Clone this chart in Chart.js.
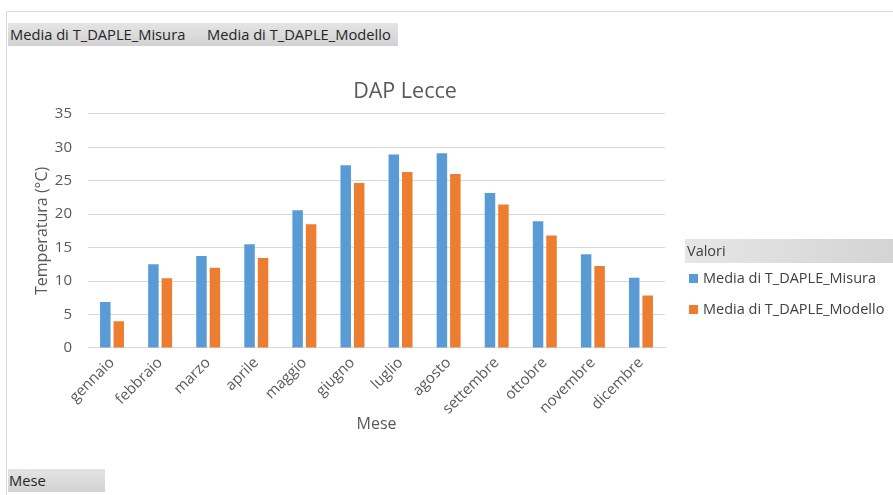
<!DOCTYPE html>
<html>
<head>
<meta charset="utf-8">
<script src="https://cdn.jsdelivr.net/npm/chart.js@4"></script>
<style>
  body { margin: 0; width: 893px; height: 495px; background: #fff; position: relative; overflow: hidden;
         font-family: "Open Sans", "Noto Sans", sans-serif; color: #262626; }
  #frameTop { position: absolute; left: 6px; top: 11px; width: 887px; height: 1px; background: #dadada; }
  #frameLeft { position: absolute; left: 6px; top: 11px; width: 1px; height: 484px; background: #dadada; }
  .btn { position: absolute; height: 23px; line-height: 23px; font-size: 14.7px;
         background: linear-gradient(#e4e4e4, #d2d2d2); color: #262626; white-space: nowrap; }
  #wrap { position: absolute; left: 0; top: 0; width: 810px; height: 495px; }
  #legend { position: absolute; left: 685px; top: 239px; width: 208px; font-size: 14.5px; }
  #legend .head { height: 24px; line-height: 24px; padding-left: 2px; background: linear-gradient(90deg, #e6e6e6, #d4d4d4); color: #404040; }
  #legend .item { height: 31px; line-height: 29px; padding-left: 4px; color: #404040; }
  #legend .sw { display: inline-block; width: 9px; height: 9px; margin-right: 5px; vertical-align: 0; }
</style>
</head>
<body>
<div id="frameTop"></div>
<div id="frameLeft"></div>
<div class="btn" style="left:8px; top:23px; width:390px;">
  <span style="position:absolute; left:2px;">Media di T_DAPLE_Misura</span>
  <span style="position:absolute; left:199px;">Media di T_DAPLE_Modello</span>
</div>
<div class="btn" style="left:8px; top:469px; width:97px; padding-left:1px; box-sizing:border-box;">Mese</div>
<div id="wrap"><canvas id="daplChart"></canvas></div>
<div id="legend"><div class="head">Valori</div></div>

<script>
// Dati
const mesi = ['gennaio', 'febbraio', 'marzo', 'aprile', 'maggio', 'giugno',
              'luglio', 'agosto', 'settembre', 'ottobre', 'novembre', 'dicembre'];
const misura = [6.85, 12.5, 13.75, 15.5, 20.6, 27.3, 28.9, 29.1, 23.15, 18.95, 14.0, 10.5];
const modello = [4.0, 10.4, 12.0, 13.45, 18.5, 24.65, 26.3, 26.0, 21.45, 16.8, 12.25, 7.85];
const yTicks = [0, 5, 10, 15, 20, 25, 30, 35];

const serie = [
    { label: 'Media di T_DAPLE_Misura', data: misura, color: '#5B9BD5' },
    { label: 'Media di T_DAPLE_Modello', data: modello, color: '#ED7D31' },
];

const grey = '#595959';
const font = '"Open Sans", "Noto Sans", sans-serif';

// il titolo di Excel è centrato sull'intera area del grafico, non sul plot
const centerTitle = {
    id: 'centerTitle',
    afterLayout(chart) {
        const t = chart.titleBlock;
        t.left = 0;
        t.right = chart.width;
        t.width = chart.width;
    },
};

const ctx = document.getElementById('daplChart').getContext('2d');

const daplChart = new Chart(ctx, {
    type: 'bar',
    data: {
        labels: mesi,
        datasets: serie.map(s => ({
            label: s.label,
            data: s.data,
            backgroundColor: s.color,
            borderWidth: 0,
            categoryPercentage: 0.56,
            barPercentage: 0.78,
        })),
    },
    plugins: [centerTitle],
    options: {
        responsive: true,
        maintainAspectRatio: false,
        animation: false,
        layout: { padding: { left: 29, right: 145, top: 79, bottom: 57 } },
        plugins: {
            legend: { display: false },
            tooltip: { enabled: false },
            title: {
                display: true,
                text: 'DAP Lecce',
                color: grey,
                font: { family: font, size: 21.5, weight: 'normal' },
                padding: { top: 0, bottom: 9 },
            },
        },
        scales: {
            x: {
                // le etichette ruotate non devono spostare l'area del grafico
                afterFit: scale => {
                    scale.paddingLeft = 0;
                    scale.height -= 11;
                },
                grid: { display: false, drawTicks: false },
                border: { color: '#d9d9d9' },
                ticks: {
                    color: grey,
                    font: { family: font, size: 15 },
                    minRotation: 45,
                    maxRotation: 45,
                    padding: 6,
                },
                title: {
                    display: true,
                    text: 'Mese',
                    color: grey,
                    font: { family: font, size: 16 },
                    padding: { top: 2 },
                },
            },
            y: {
                min: 0,
                max: 35,
                afterBuildTicks: axis => { axis.ticks = yTicks.map(v => ({ value: v })); },
                afterFit: scale => { scale.width = 59; },
                grid: { color: '#d9d9d9', drawTicks: false },
                border: { display: false },
                ticks: {
                    color: grey,
                    font: { family: font, size: 15 },
                    padding: 16,
                },
                title: {
                    display: true,
                    text: 'Temperatura (°C)',
                    color: grey,
                    font: { family: font, size: 16 },
                    padding: { top: 4, bottom: 3 },
                },
            },
        },
    },
});

// Legenda HTML costruita dalle serie
const legend = document.getElementById('legend');
serie.forEach(s => {
    const item = document.createElement('div');
    item.className = 'item';
    item.innerHTML = '<span class="sw" style="background:' + s.color + '"></span>' + s.label;
    legend.appendChild(item);
});
</script>
</body>
</html>
